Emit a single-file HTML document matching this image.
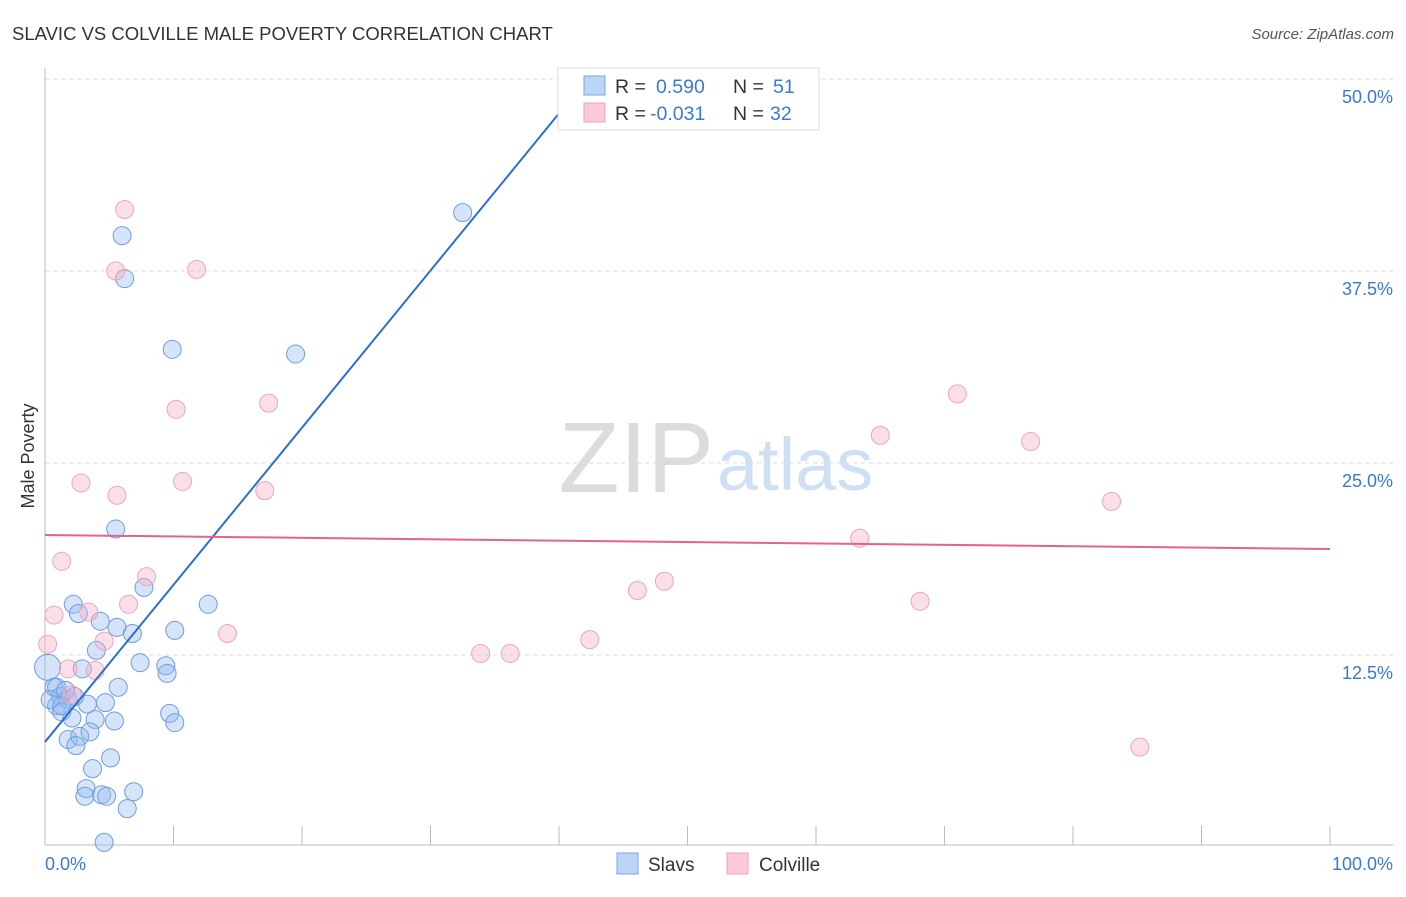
<!DOCTYPE html>
<html><head><meta charset="utf-8"><style>
body{margin:0;background:#fff;font-family:"Liberation Sans",sans-serif}
svg text{font-family:"Liberation Sans",sans-serif}
</style></head><body>
<svg id="c" width="1406" height="892" xmlns="http://www.w3.org/2000/svg">
<text x="12" y="40" font-size="18.5" fill="#333">SLAVIC VS COLVILLE MALE POVERTY CORRELATION CHART</text>
<text x="1394" y="39" font-size="15" fill="#555" font-style="italic" text-anchor="end">Source: ZipAtlas.com</text>
<text x="714" y="492" font-size="100" fill="#dcdcdc" text-anchor="end" font-family="Liberation Serif">ZIP</text>
<text x="717" y="490" font-size="74" fill="#cfe0f5">atlas</text>
<g id="grid"></g>
<line x1="45" y1="68" x2="45" y2="845" stroke="#bbb"/>
<line x1="45" y1="845" x2="1393" y2="845" stroke="#bbb"/>
<g id="xt"></g>
<text x="34" y="456" font-size="18" fill="#333" transform="rotate(-90 34 456)" text-anchor="middle">Male Poverty</text>
<text x="45" y="870" font-size="18" fill="#3a78d8">0.0%</text>
<text x="1393" y="870" font-size="18" fill="#3a78d8" text-anchor="end">100.0%</text>
<g id="pts"></g>
<g id="trend"></g>
<g>
<rect x="558" y="68" width="261" height="62" fill="#fff" stroke="#ddd"/>
<rect x="584" y="76" width="21" height="19" fill="#bcd4f5" stroke="#7aa6e6"/>
<rect x="584" y="103" width="21" height="19" fill="#fbcad8" stroke="#efa2bb"/>
<text x="615" y="93" font-size="19.5" fill="#333">R =</text>
<text x="656" y="93" font-size="19.5" fill="#3a78d8">0.590</text>
<text x="733" y="93" font-size="19.5" fill="#333">N =</text>
<text x="773" y="93" font-size="19.5" fill="#3a78d8">51</text>
<text x="615" y="120" font-size="19.5" fill="#333">R =</text>
<text x="650" y="120" font-size="19.5" fill="#3a78d8">-0.031</text>
<text x="733" y="120" font-size="19.5" fill="#333">N =</text>
<text x="770" y="120" font-size="19.5" fill="#3a78d8">32</text>
</g>
<g>
<rect x="617" y="853" width="21" height="21" fill="#bcd4f5" stroke="#7aa6e6"/>
<text x="648" y="871" font-size="19" fill="#333">Slavs</text>
<rect x="727" y="853" width="21" height="21" fill="#fbcad8" stroke="#efa2bb"/>
<text x="759" y="871" font-size="19" fill="#333">Colville</text>
</g>
</svg>
<script>
const yTicks=[12.5,25,37.5,50];
const yTickLabels=["12.5%","25.0%","37.5%","50.0%"];
const xTicks=[0,10,20,30,40,50,60,70,80,90,100];
const slavsX=[6.0,6.2,9.9,19.5,32.5,5.5,7.7,2.2,2.6,12.7,4.3,5.6,6.8,10.1,4.0,7.4,9.4,9.5,2.9,0.7,5.7,1.2,1.8,0.9,3.3,4.7,1.3,2.1,3.9,5.4,9.7,10.1,1.8,2.7,3.5,2.4,5.1,3.7,3.2,3.1,4.4,4.8,6.9,6.4,4.6,0.2,0.9,0.4,1.6,1.3,2.3];
const slavsY=[39.8,37.0,32.4,32.1,41.3,20.7,16.9,15.8,15.2,15.8,14.7,14.3,13.9,14.1,12.8,12.0,11.8,11.3,11.6,10.4,10.4,9.8,9.6,9.2,9.3,9.4,8.8,8.4,8.3,8.2,8.7,8.1,7.0,7.2,7.5,6.6,5.8,5.1,3.8,3.3,3.4,3.3,3.6,2.5,0.3,11.7,10.4,9.6,10.2,9.2,9.8];
const colvX=[6.2,5.5,11.8,10.2,17.4,2.8,5.6,10.7,17.1,1.3,7.9,6.5,3.4,0.7,4.6,0.2,1.8,3.9,2.1,14.2,33.9,36.2,42.4,46.1,48.2,63.4,65.0,71.0,76.7,83.0,68.1,85.2];
const colvY=[41.5,37.5,37.6,28.5,28.9,23.7,22.9,23.8,23.2,18.6,17.6,15.8,15.3,15.1,13.4,13.2,11.6,11.5,9.9,13.9,12.6,12.6,13.5,16.7,17.3,20.1,26.8,29.5,26.4,22.5,16.0,6.5];
const slavsTrend=[6.84,1.023];
const colvTrend=[20.31,19.4];
const NS="http://www.w3.org/2000/svg";
const X=v=>45+v*12.85, Y=v=>847-v*15.36;
function mk(t,a,p){const e=document.createElementNS(NS,t);for(const k in a)e.setAttribute(k,a[k]);p.appendChild(e);return e;}
const grid=document.getElementById('grid');
yTicks.forEach((t,i)=>{
 const l=mk('line',{x1:45,x2:1393,y1:Y(t),y2:Y(t),stroke:'#ddd','stroke-dasharray':'4,4'},grid);
 
 
 const tx=mk('text',{x:1393,y:Y(t)+24,'font-size':18,fill:'#3a78d8','text-anchor':'end'},grid);
 tx.textContent=yTickLabels[i];
 
 
});
const xt=document.getElementById('xt');
xTicks.forEach(t=>{
 const l=mk('line',{x1:X(t),x2:X(t),y1:826,y2:845,stroke:'#bbb'},xt);
 
 
});
const pts=document.getElementById('pts');
slavsX.forEach((x,i)=>{
 const c=mk('circle',{cx:X(x),cy:Y(slavsY[i]),r:(i==45?13:9),fill:'rgba(150,188,238,0.4)',stroke:'#6d9de2','stroke-width':1},pts);
 
 
});
colvX.forEach((x,i)=>{
 const c=mk('circle',{cx:X(x),cy:Y(colvY[i]),r:9,fill:'rgba(246,176,198,0.4)',stroke:'#eea5bd','stroke-width':1},pts);
 
 
});
const tr=document.getElementById('trend');
const xEnd=(50-slavsTrend[0])/slavsTrend[1];
const a=mk('line',{x1:X(0),y1:Y(slavsTrend[0]),x2:X(xEnd),y2:Y(50),stroke:'#2a6fd6','stroke-width':2},tr);


const b=mk('line',{x1:X(0),y1:Y(colvTrend[0]),x2:X(100),y2:Y(colvTrend[1]),stroke:'#e5628e','stroke-width':2},tr);


</script>
</body></html>
